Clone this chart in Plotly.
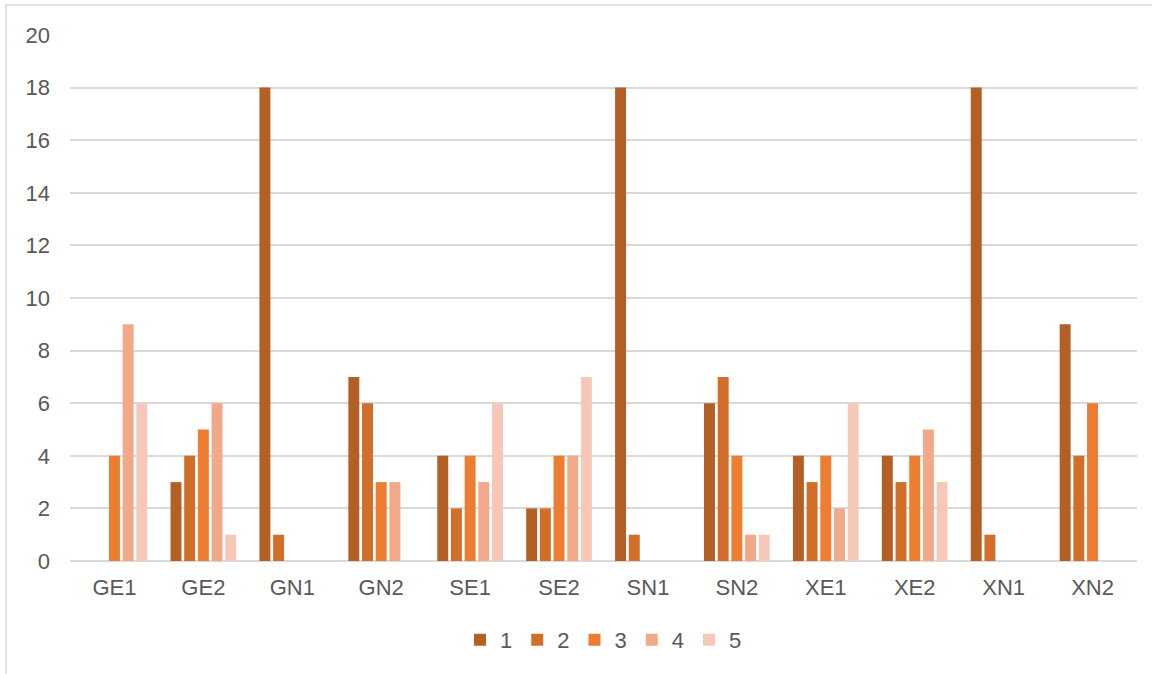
import plotly.graph_objects as go

categories = ["GE1", "GE2", "GN1", "GN2", "SE1", "SE2", "SN1", "SN2", "XE1", "XE2", "XN1", "XN2"]
series_names = ["1", "2", "3", "4", "5"]
s1 = [0, 3, 18, 7, 4, 2, 18, 6, 4, 4, 18, 9]
s2 = [0, 4, 1, 6, 2, 2, 1, 7, 3, 3, 1, 4]
s3 = [4, 5, 0, 3, 4, 4, 0, 4, 4, 4, 0, 6]
s4 = [9, 6, 0, 3, 3, 4, 0, 1, 2, 5, 0, 0]
s5 = [6, 1, 0, 0, 6, 7, 0, 1, 6, 3, 0, 0]
colors = ["#B45F23", "#D16F2A", "#ED7D31", "#F2A98A", "#F6C8B8"]

fig = go.Figure()
for name, vals, col in zip(series_names, [s1, s2, s3, s4, s5], colors):
    fig.add_trace(go.Bar(name=name, x=categories, y=vals,
                         marker=dict(color=col, line=dict(width=0))))

fig.update_layout(
    width=1152, height=674,
    margin=dict(l=70, r=15, t=35, b=113),
    paper_bgcolor="white", plot_bgcolor="white",
    barmode="group", bargap=0.23, bargroupgap=0.2,
    font=dict(family="Liberation Sans, Arial, sans-serif", size=22, color="#595959"),
    showlegend=True,
    legend=dict(orientation="h", x=0.50, xanchor="center", y=-0.11, yanchor="top",
                font=dict(size=22, color="#595959"), itemwidth=30,
                traceorder="normal"),
    xaxis=dict(showgrid=False, showline=False, ticks="", ticklabelstandoff=11,
               tickfont=dict(size=22)),
    yaxis=dict(range=[0, 20], dtick=2, showgrid=True, gridcolor="#D9D9D9", gridwidth=1.5,
               zeroline=True, zerolinecolor="#D9D9D9", zerolinewidth=1.5,
               showline=False, ticks="", ticklabelstandoff=19, tickfont=dict(size=22)),
    shapes=[dict(type="rect", xref="paper", yref="paper",
                 x0=-0.06, x1=1.5, y0=-0.5, y1=1.057,
                 line=dict(color="#D9D9D9", width=1.5), layer="below")],
)

fig.write_html("out.html")
